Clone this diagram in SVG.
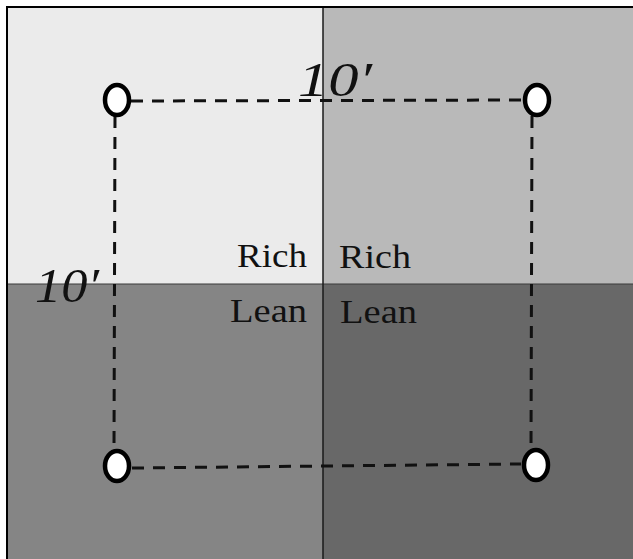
<svg xmlns="http://www.w3.org/2000/svg" width="633" height="559" viewBox="0 0 633 559">
  <style>
    .lbl { font-family: "Liberation Serif", "Times New Roman", serif; font-size: 33px; fill: #111; }
    .dim { font-family: "Liberation Serif", "Times New Roman", serif; font-size: 48px; font-style: italic; fill: #111; }
    .dash { fill: none; stroke: #111; stroke-width: 3; stroke-dasharray: 12 9; }
    .post { fill: #fff; stroke: #000; stroke-width: 4.5; }
  </style>

  <!-- quadrant fills -->
  <g id="quadrants">
    <rect x="8" y="8" width="315" height="276" fill="#ebebeb"/>
    <rect x="323" y="8" width="310" height="276" fill="#b9b9b9"/>
    <rect x="8" y="284" width="315" height="275" fill="#858585"/>
    <rect x="323" y="284" width="310" height="275" fill="#686868"/>
    <line x1="8" y1="284" x2="633" y2="284" stroke="#3a3a3a" stroke-width="1.2"/>
    <line x1="323" y1="8" x2="323" y2="559" stroke="#1a1a1a" stroke-width="1.5"/>
    <path d="M7,559 V7 H633" fill="none" stroke="#000" stroke-width="2"/>
  </g>

  <!-- plot boundary -->
  <g id="connectors">
    <line class="dash" x1="131" y1="101" x2="522" y2="100"/>
    <line class="dash" x1="115" y1="116" x2="114" y2="450"/>
    <line class="dash" x1="532" y1="116" x2="531" y2="449"/>
    <line class="dash" x1="132" y1="468" x2="521" y2="464"/>
  </g>

  <!-- corner posts -->
  <g id="post-nw"><ellipse class="post" cx="117" cy="100" rx="12" ry="15"/></g>
  <g id="post-ne"><ellipse class="post" cx="537" cy="100" rx="12" ry="15"/></g>
  <g id="post-sw"><ellipse class="post" cx="117" cy="466" rx="12" ry="15"/></g>
  <g id="post-se"><ellipse class="post" cx="536" cy="465" rx="12" ry="15"/></g>

  <!-- dimensions -->
  <g id="dim-top"><text class="dim" x="298" y="96" textLength="74" lengthAdjust="spacingAndGlyphs">10′</text></g>
  <g id="dim-left"><text class="dim" x="35" y="302" textLength="64" lengthAdjust="spacingAndGlyphs">10′</text></g>

  <!-- quadrant labels -->
  <g id="label-nw"><text class="lbl" x="237" y="267" textLength="70" lengthAdjust="spacingAndGlyphs">Rich</text></g>
  <g id="label-ne"><text class="lbl" x="339" y="268" textLength="72" lengthAdjust="spacingAndGlyphs">Rich</text></g>
  <g id="label-sw"><text class="lbl" x="230" y="322" textLength="77" lengthAdjust="spacingAndGlyphs">Lean</text></g>
  <g id="label-se"><text class="lbl" x="340" y="323" textLength="77" lengthAdjust="spacingAndGlyphs">Lean</text></g>
</svg>
